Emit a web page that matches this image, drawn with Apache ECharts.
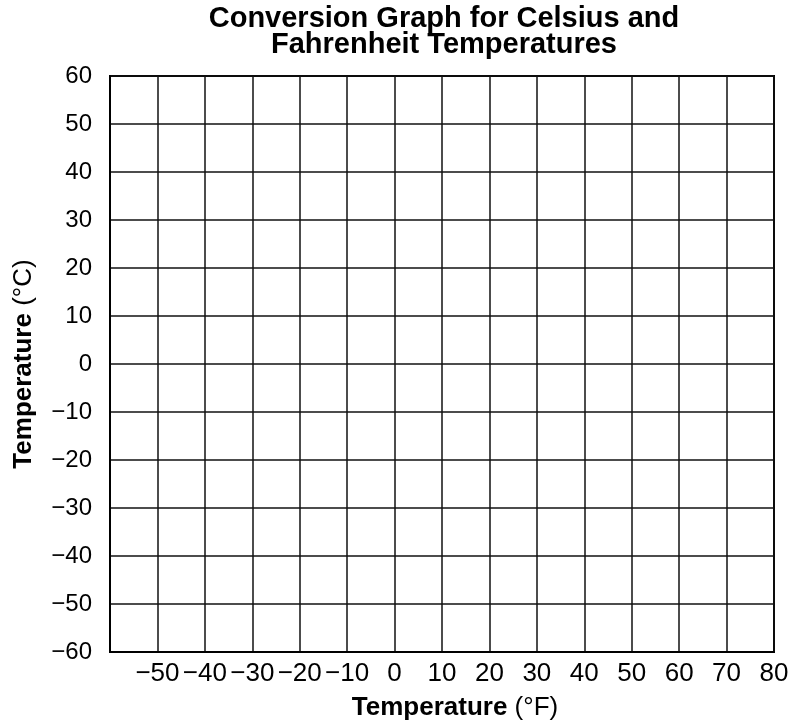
<!DOCTYPE html>
<html>
<head>
<meta charset="utf-8">
<script src="https://cdn.jsdelivr.net/npm/echarts@6/dist/echarts.min.js"></script>
<style>
  html, body { margin: 0; padding: 0; background: #ffffff; }
  #chart { width: 793px; height: 726px; }
</style>
</head>
<body>
<div id="chart"></div>
<script>
// Temperature ranges of the blank conversion grid
const fahrenheitRange = [-60, 80];
const celsiusRange = [-60, 60];
const gridStep = 10;

// Tick values that carry a printed label
const fahrenheitLabels = [-50, -40, -30, -20, -10, 0, 10, 20, 30, 40, 50, 60, 70, 80];
const celsiusLabels = [-60, -50, -40, -30, -20, -10, 0, 10, 20, 30, 40, 50, 60];

// Text
const titleLines = ['Conversion Graph for Celsius and', 'Fahrenheit Temperatures'];
const xAxisName = ['Temperature', ' (°F)'];
const yAxisName = ['Temperature', ' (°C)'];

const FONT = '"Liberation Sans", Arial, Helvetica, sans-serif';
const fmt = v => (v < 0 ? '\u2212' + Math.abs(v) : String(v));

const chart = echarts.init(document.getElementById('chart'), null, { renderer: 'canvas' });

const plot = { left: 110, right: 19, top: 76, bottom: 73 };
const plotCenterX = plot.left + (793 - plot.left - plot.right) / 2;

chart.setOption({
  animation: false,
  backgroundColor: '#ffffff',
  graphic: [{
    type: 'text',
    x: plotCenterX + 2,
    y: 6,
    style: {
      text: titleLines.join('\n'),
      align: 'center',
      verticalAlign: 'top',
      font: 'bold 29px ' + FONT,
      lineHeight: 26,
      fill: '#000'
    }
  }],
  grid: {
    left: plot.left, right: plot.right, top: plot.top, bottom: plot.bottom,
    show: true, borderColor: '#000', borderWidth: 2, backgroundColor: 'transparent'
  },
  xAxis: {
    type: 'value',
    min: fahrenheitRange[0], max: fahrenheitRange[1], interval: gridStep,
    axisLine: { show: true, onZero: false, lineStyle: { color: '#000', width: 2 } },
    axisTick: { show: false },
    splitLine: { show: true, lineStyle: { color: '#111', width: 1.5 } },
    axisLabel: {
      margin: 9,
      color: '#000',
      fontFamily: FONT,
      fontSize: 26,
      formatter: v => (fahrenheitLabels.includes(v) ? fmt(v) : '')
    },
    name: '{b|' + xAxisName[0] + '}{n|' + xAxisName[1] + '}',
    nameLocation: 'middle',
    nameGap: 43,
    nameTextStyle: {
      padding: [0, 0, 0, 26],
      rich: {
        b: { fontFamily: FONT, fontWeight: 'bold', fontSize: 26, color: '#000' },
        n: { fontFamily: FONT, fontWeight: 'normal', fontSize: 26, color: '#000' }
      }
    }
  },
  yAxis: {
    type: 'value',
    min: celsiusRange[0], max: celsiusRange[1], interval: gridStep,
    axisLine: { show: true, onZero: false, lineStyle: { color: '#000', width: 2 } },
    axisTick: { show: false },
    splitLine: { show: true, lineStyle: { color: '#111', width: 1.5 } },
    axisLabel: {
      margin: 18,
      color: '#000',
      fontFamily: FONT,
      fontSize: 24,
      formatter: v => (celsiusLabels.includes(v) ? fmt(v) : '')
    },
    name: '{b|' + yAxisName[0] + '}{n|' + yAxisName[1] + '}',
    nameLocation: 'middle',
    nameGap: 73,
    nameRotate: 90,
    nameTextStyle: {
      rich: {
        b: { fontFamily: FONT, fontWeight: 'bold', fontSize: 26, color: '#000' },
        n: { fontFamily: FONT, fontWeight: 'normal', fontSize: 26, color: '#000' }
      }
    }
  },
  series: [{ type: 'line', data: [], silent: true }]
});
</script>
</body>
</html>
